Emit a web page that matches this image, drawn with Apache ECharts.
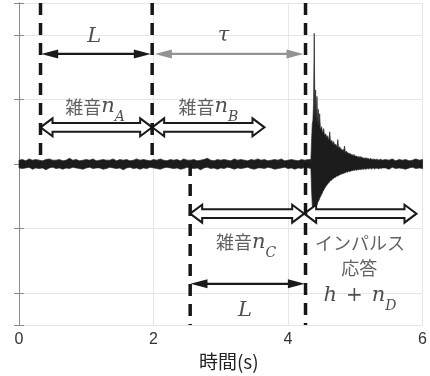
<!DOCTYPE html>
<html><head><meta charset="utf-8">
<script src="https://cdn.jsdelivr.net/npm/echarts@6/dist/echarts.min.js"></script>
<style>html,body{margin:0;padding:0;background:#fff}#c{width:430px;height:376px}</style>
</head><body><div id="c"></div>
<script>
// ---- axis ----
const xTicks = [0, 2, 4, 6];
const xName = '時間(s)';

// ---- recorded signal, drawn as min/max envelope per sample ----
// background noise, 0.00 s .. 4.30 s, one sample every 0.05 s
const noiseStart = 0, noiseStep = 0.05;
const noiseHi = [.06,.07,.05,.08,.06,.07,.06,.05,.07,.08,.06,.06,.07,.05,.06,.09,.06,.07,.05,.06,
  .07,.06,.08,.05,.06,.07,.06,.06,.08,.05,.07,.06,.07,.05,.06,.08,.06,.07,.06,.05,
  .07,.06,.08,.06,.05,.07,.06,.07,.05,.08,.06,.06,.07,.05,.06,.07,.09,.06,.05,.07,
  .06,.07,.06,.05,.08,.06,.07,.06,.05,.07,.06,.08,.06,.07,.05,.06,.07,.06,.08,.05,
  .06,.07,.06,.05,.07,.06,.07];
const noiseLo = [-.06,-.07,-.06,-.05,-.08,-.06,-.07,-.06,-.09,-.06,-.05,-.07,-.06,-.08,-.06,-.07,-.05,-.06,-.07,-.08,
  -.06,-.05,-.07,-.06,-.06,-.08,-.07,-.05,-.06,-.07,-.06,-.09,-.06,-.05,-.07,-.06,-.08,-.06,-.07,-.05,
  -.06,-.07,-.08,-.06,-.05,-.06,-.07,-.06,-.08,-.07,-.05,-.06,-.07,-.06,-.09,-.06,-.05,-.07,-.06,-.08,
  -.06,-.07,-.05,-.06,-.08,-.06,-.07,-.06,-.05,-.07,-.08,-.06,-.06,-.07,-.05,-.06,-.08,-.07,-.06,-.05,
  -.07,-.06,-.08,-.06,-.07,-.05,-.06];
// impulse response, 4.34 s .. 5.40 s, one sample every 0.01 s
const impStart = 4.34, impStep = 0.01;
const impHi = [.07,.35,.62,.68,.95,2.03,.72,1.15,.66,1.05,
  .63,.85,.60,.78,.57,.54,.58,.50,.49,.55,
  .46,.45,.47,.43,.41,.44,.39,.38,.50,.36,
  .35,.37,.33,.32,.35,.30,.29,.31,.28,.27,
  .38,.26,.25,.27,.23,.24,.22,.21,.23,.20,
  .28,.19,.18,.20,.17,.18,.16,.17,.15,.16,
  .14,.15,.14,.13,.15,.13,.12,.13,.12,.11,
  .12,.11,.10,.12,.10,.11,.09,.10,.09,.10,
  .08,.09,.10,.08,.09,.08,.09,.07,.08,.09,
  .07,.08,.07,.08,.06,.08,.07,.06,.08,.07,
  .06,.07,.06,.08,.06,.07,.06];
const impLo = [-.07,-.40,-.63,-.70,-.67,-.71,-.66,-.69,-.63,-.64,
  -.60,-.58,-.56,-.53,-.51,-.49,-.47,-.45,-.42,-.41,
  -.38,-.37,-.35,-.34,-.32,-.31,-.29,-.29,-.27,-.26,
  -.25,-.25,-.23,-.23,-.22,-.21,-.21,-.20,-.19,-.19,
  -.18,-.18,-.17,-.17,-.16,-.16,-.15,-.15,-.14,-.15,
  -.13,-.14,-.13,-.12,-.13,-.12,-.11,-.12,-.11,-.11,
  -.10,-.11,-.10,-.10,-.09,-.10,-.09,-.09,-.10,-.08,
  -.09,-.09,-.08,-.09,-.08,-.08,-.09,-.07,-.08,-.08,
  -.07,-.08,-.07,-.08,-.07,-.06,-.08,-.07,-.06,-.07,
  -.08,-.06,-.07,-.06,-.07,-.08,-.06,-.07,-.06,-.07,
  -.06,-.08,-.06,-.07,-.06,-.07,-.06];
// noise after the response, 5.45 s .. 6.00 s, every 0.05 s
const tailStart = 5.45, tailStep = 0.05;
const tailHi = [.07,.06,.08,.05,.07,.06,.07,.05,.06,.08,.06,.07];
const tailLo = [-.06,-.08,-.05,-.07,-.06,-.07,-.08,-.06,-.05,-.07,-.06,-.07];

// ---- annotations (data coordinates: time s, amplitude) ----
const dashedLines = [[0.32, 2.5, 0], [1.98, 2.5, 0], [2.545, 0, -2.5], [4.26, 2.5, -2.5]]; // [t, from, to]
const blackArrows = [[0.33, 1.96, 1.71], [2.55, 4.25, -1.86]];   // [t1, t2, y]
const grayArrows = [[2.02, 4.23, 1.71]];
const hollowArrows = [[0.32, 1.98, 0.57], [1.98, 3.65, 0.57], [2.545, 4.24, -0.77], [4.24, 5.91, -0.77]];
const labelPos = [[1.12, 1.98], [3.04, 1.99], [1.13, 0.89], [2.815, 0.89], [3.375, -1.215], [5.07, -1.23], [5.06, -1.61], [5.07, -2.04], [3.36, -2.27]];
const labelText = ['{m|L}', '{m|τ}', '{j|雑音}{m|n}{s|A}', '{j|雑音}{m|n}{s|B}', '{j|雑音}{m|n}{s|C}',
  '{j|インパルス}', '{j|応答}', '{m|h}{o|+}{m|n}{s|D}', '{m|L}'];

// ---- build signal table ----
const signal = [];
noiseHi.forEach((v, i) => signal.push([+(noiseStart + i * noiseStep).toFixed(3), v, noiseLo[i]]));
impHi.forEach((v, i) => signal.push([+(impStart + i * impStep).toFixed(3), v, impLo[i]]));
tailHi.forEach((v, i) => signal.push([+(tailStart + i * tailStep).toFixed(3), v, tailLo[i]]));

const chart = echarts.init(document.getElementById('c'), null, {renderer: 'canvas'});

function bandItem(params, api) {
  if (params.dataIndex !== 0) return null;
  const top = signal.map(p => api.coord([p[0], p[1]]));
  const bot = signal.slice().reverse().map(p => api.coord([p[0], p[2]]));
  return {type: 'polygon', shape: {points: top.concat(bot)},
    style: {fill: '#1c1c1c', stroke: '#262626', lineWidth: 0.7}};
}
function dashedItem(params, api) {
  const a = api.coord([api.value(0), api.value(1)]);
  const b = api.coord([api.value(0), api.value(2)]);
  return {type: 'line', shape: {x1: a[0], y1: a[1], x2: b[0], y2: b[1]},
    style: {stroke: '#161616', lineWidth: 3.5, lineDash: [12, 8]}};
}
function solidArrow(color) {
  return function (params, api) {
    const a = api.coord([api.value(0), api.value(2)]);
    const b = api.coord([api.value(1), api.value(2)]);
    const hl = 17, hw = 4.5;
    return {type: 'group', children: [
      {type: 'line', shape: {x1: a[0] + hl - 3, y1: a[1], x2: b[0] - hl + 3, y2: b[1]}, style: {stroke: color, lineWidth: 2.3}},
      {type: 'polygon', shape: {points: [[a[0], a[1]], [a[0] + hl, a[1] - hw], [a[0] + hl, a[1] + hw]]}, style: {fill: color}},
      {type: 'polygon', shape: {points: [[b[0], b[1]], [b[0] - hl, b[1] - hw], [b[0] - hl, b[1] + hw]]}, style: {fill: color}}
    ]};
  };
}
function hollowItem(params, api) {
  const a = api.coord([api.value(0), api.value(2)]);
  const b = api.coord([api.value(1), api.value(2)]);
  const hl = 12, hh = 9, sw = 4.3, y = a[1];
  const pts = [[a[0], y], [a[0] + hl, y - hh], [a[0] + hl, y - sw], [b[0] - hl, y - sw], [b[0] - hl, y - hh],
    [b[0], y], [b[0] - hl, y + hh], [b[0] - hl, y + sw], [a[0] + hl, y + sw], [a[0] + hl, y + hh]];
  return {type: 'polygon', shape: {points: pts}, style: {fill: '#fff', stroke: '#1a1a1a', lineWidth: 2, lineJoin: 'miter'}};
}

const mathFont = 'DejaVu Serif';
const jpFont = '"Noto Sans CJK JP"';
const axisGray = '#8a8a8a';

chart.setOption({
  animation: false,
  grid: {left: 19, right: 4, top: 3, bottom: 48},
  xAxis: [{
    type: 'value', min: xTicks[0], max: xTicks[xTicks.length - 1], interval: 2,
    name: xName, nameLocation: 'middle', nameGap: 22,
    nameTextStyle: {fontFamily: jpFont, fontSize: 19, color: '#222', padding: [0, 0, 0, 16]},
    axisLine: {lineStyle: {color: axisGray}},
    axisTick: {inside: true, length: 4, lineStyle: {color: axisGray}},
    axisLabel: {fontFamily: 'Liberation Sans', fontSize: 16, color: '#333', margin: 6},
    splitLine: {show: true, lineStyle: {color: '#e6e6e6'}}
  }, {
    type: 'value', position: 'top', min: xTicks[0], max: xTicks[xTicks.length - 1], interval: 2,
    axisLine: {show: true, lineStyle: {color: axisGray}},
    axisTick: {inside: true, length: 4, lineStyle: {color: axisGray}},
    axisLabel: {show: false}, splitLine: {show: false}
  }],
  yAxis: [{
    type: 'value', min: -2.5, max: 2.5, splitNumber: 5,
    axisLine: {show: true, lineStyle: {color: axisGray}},
    axisTick: {show: true, inside: true, length: 5, lineStyle: {color: axisGray}},
    axisLabel: {show: false},
    splitLine: {show: true, lineStyle: {color: '#e6e6e6'}}
  }, {
    type: 'value', position: 'right', min: -2.5, max: 2.5, splitNumber: 5,
    axisLine: {show: true, lineStyle: {color: axisGray}},
    axisTick: {show: true, inside: true, length: 5, lineStyle: {color: axisGray}},
    axisLabel: {show: false}, splitLine: {show: false}
  }],
  series: [
    {type: 'custom', name: 'signal', data: signal, encode: {x: 0, y: [1, 2]}, renderItem: bandItem, z: 2, silent: true},
    {type: 'custom', data: hollowArrows, encode: {x: [0, 1], y: 2}, renderItem: hollowItem, z: 3, silent: true},
    {type: 'custom', data: blackArrows, encode: {x: [0, 1], y: 2}, renderItem: solidArrow('#1a1a1a'), z: 3, silent: true},
    {type: 'custom', data: grayArrows, encode: {x: [0, 1], y: 2}, renderItem: solidArrow('#939393'), z: 3, silent: true},
    {type: 'custom', data: dashedLines, encode: {x: 0, y: [1, 2]}, renderItem: dashedItem, z: 4, silent: true},
    {type: 'scatter', symbolSize: 0, z: 5, silent: true,
      data: labelPos.map((p, i) => ({value: p, label: {formatter: labelText[i]}})),
      label: {show: true, position: 'inside', color: '#222',
        rich: {
          j: {fontFamily: jpFont, fontSize: 18, color: '#3a3a3a', verticalAlign: 'middle'},
          m: {fontFamily: mathFont, fontStyle: 'italic', fontSize: 21, color: '#222', verticalAlign: 'middle'},
          s: {fontFamily: mathFont, fontStyle: 'italic', fontSize: 14, color: '#222', verticalAlign: 'middle', padding: [22, 0, 0, 0]},
          o: {fontFamily: mathFont, fontSize: 20, color: '#222', verticalAlign: 'middle', padding: [0, 9, 0, 9]}
        }}
    }
  ]
});
</script></body></html>
